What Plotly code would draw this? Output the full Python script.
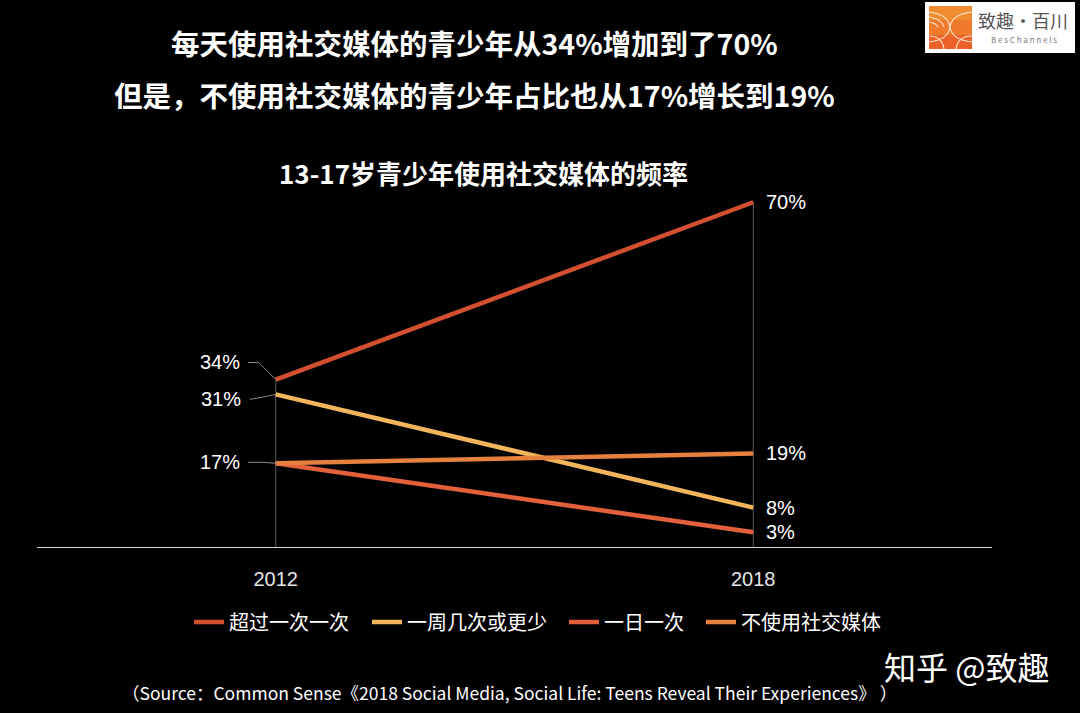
# -*- coding:utf-8 -*-
import plotly.graph_objects as go

years = ['2012', '2018']
over_once = [34, 70]
few_week = [31, 8]
once_day = [17, 3]
no_use = [17, 19]

series_names = ['超过一次一次', '一周几次或更少', '一日一次', '不使用社交媒体']
series_values = [over_once, few_week, once_day, no_use]
series_colors = ['#d2502f', '#f2b55c', '#e2603c', '#e5803f']
legend_ids = ['legend', 'legend2', 'legend3', 'legend4']
legend_text_x = [229, 407, 604, 741]

FONT = 'Noto Sans CJK SC'
NUM_FONT = 'Liberation Sans'
W, H = 1080, 713
L, R, T, B = 37, 88, 153, 166


# page pixels -> paper fractions, for things that sit outside the plot area
def px(x):
    return (x - L) / (W - L - R)


def py(y):
    return (H - B - y) / (H - T - B)


def rect(x0, y0, x1, y1, color):
    return dict(type='rect', xref='paper', yref='paper', x0=px(x0), x1=px(x1),
                y0=py(y0), y1=py(y1), fillcolor=color, line_width=0, layer='above')


def arc(x0, y0, cx, cy, x1, y1):
    path = 'M {} {} Q {} {} {} {}'.format(px(x0), py(y0), px(cx), py(cy), px(x1), py(y1))
    return dict(type='path', xref='paper', yref='paper', path=path,
                line=dict(color='#fbe3c8', width=1.2), layer='above')


# leader from a 2012 label to its point, offsets in pixels from the point
def leader(value, path):
    return dict(type='path', xref='x', yref='y', xsizemode='pixel', ysizemode='pixel',
                xanchor=0, yanchor=value, path=path,
                line=dict(color='#8a8a8a', width=1))


def page_text(x, y, text, size, anchor='center', bold=False, color='white', family=FONT):
    if bold:
        text = '<b>' + text + '</b>'
    return dict(xref='paper', yref='paper', x=px(x), y=py(y), text=text, showarrow=False,
                xanchor=anchor, yanchor='middle', font=dict(family=family, size=size, color=color))


# value label to the right of a 2018 point
def end_label(value):
    return dict(xref='x', yref='y', x=1, y=value, text='{}%'.format(value), showarrow=False,
                xanchor='left', yanchor='middle', xshift=12, yshift=0, borderpad=0,
                font=dict(family=NUM_FONT, size=20, color='white'))


fig = go.Figure()

# thin drop lines under the end points
for i, year in enumerate(years):
    top = max(v[i] for v in series_values)
    fig.add_trace(go.Scatter(x=[year, year], y=[0, top], mode='lines', showlegend=False,
                             line=dict(color='#5a5a5a', width=1), hoverinfo='skip'))

for name, values, color, legend_id in zip(series_names, series_values, series_colors, legend_ids):
    fig.add_trace(go.Scatter(
        x=years,
        y=values,
        name=name,
        legend=legend_id,
        mode='lines',
        line=dict(color=color, width=4.5),
        cliponaxis=False,
    ))

shapes = [
    leader(over_once[0], 'M -28 17 L -17 17 L 0 0'),
    leader(few_week[0], 'M -26 -5 L -14 -3 L 0 0'),
    leader(once_day[0], 'M -28 1 L -14 1 L 0 0'),
    # logo
    rect(925, 2, 1075, 53, 'white'),
    rect(929, 6, 972, 20, '#f08c32'),
    rect(929, 20, 972, 35, '#ef7a2e'),
    rect(929, 35, 972, 49, '#ec6128'),
    arc(929, 12, 948, 14, 950, 27),
    arc(929, 17, 942, 19, 944, 27),
    arc(929, 22, 936, 23, 938, 27),
    arc(929, 42, 948, 40, 950, 27),
    arc(972, 42, 952, 40, 950, 27),
    arc(972, 36, 958, 36, 956, 49),
    arc(929, 36, 942, 36, 944, 49),
    arc(972, 12, 952, 14, 950, 27),
]

annotations = [
    page_text(474, 43, '每天使用社交媒体的青少年从34%增加到了70%', 28.5, bold=True),
    page_text(474, 94, '但是，不使用社交媒体的青少年占比也从17%增长到19%', 28.5, bold=True),
    page_text(483, 172, '13-17岁青少年使用社交媒体的频率', 26, bold=True),
    page_text(509, 692, '（Source：Common Sense《2018 Social Media, Social Life: Teens Reveal Their Experiences》 ）', 17.5),
    page_text(1051, 666, '知乎 @致趣', 32, anchor='right'),
    page_text(1023, 20, '致趣·百川', 18, color='#555555'),
    page_text(1024, 40, 'B e s C h a n n e l s', 8, color='#777777'),
    page_text(242, 362, '{}%'.format(over_once[0]), 20, anchor='right', family=NUM_FONT),
    page_text(243, 399, '{}%'.format(few_week[0]), 20, anchor='right', family=NUM_FONT),
    page_text(242, 462, '{}%'.format(once_day[0]), 20, anchor='right', family=NUM_FONT),
]
for values in series_values:
    annotations.append(end_label(values[1]))

legends = {}
for legend_id, text_x in zip(legend_ids, legend_text_x):
    legends[legend_id] = dict(
        orientation='h',
        x=px(text_x - 40),
        y=py(622),
        xanchor='left',
        yanchor='middle',
        font=dict(family=FONT, size=20, color='white'),
        bgcolor='rgba(0,0,0,0)',
    )

fig.update_layout(
    width=W,
    height=H,
    autosize=False,
    margin=dict(l=L, r=R, t=T, b=B),
    paper_bgcolor='black',
    plot_bgcolor='black',
    font=dict(family=FONT, color='white'),
    shapes=shapes,
    annotations=annotations,
    **legends,
)
fig.update_xaxes(type='category', range=[-0.5, 1.5], showgrid=False, zeroline=False,
                 showline=False, ticks='', ticklabelstandoff=18,
                 tickfont=dict(family=NUM_FONT, size=20, color='#e6e6e6'))
fig.update_yaxes(range=[0, 80], showgrid=False, zeroline=True, zerolinecolor='#d8d8d8',
                 zerolinewidth=1, showticklabels=False, ticks='')

# drop the default page margin so the figure fills the window
fig.write_html('out.html', config={'displayModeBar': False},
               post_script="document.body.style.margin='0';document.body.style.background='black';")
